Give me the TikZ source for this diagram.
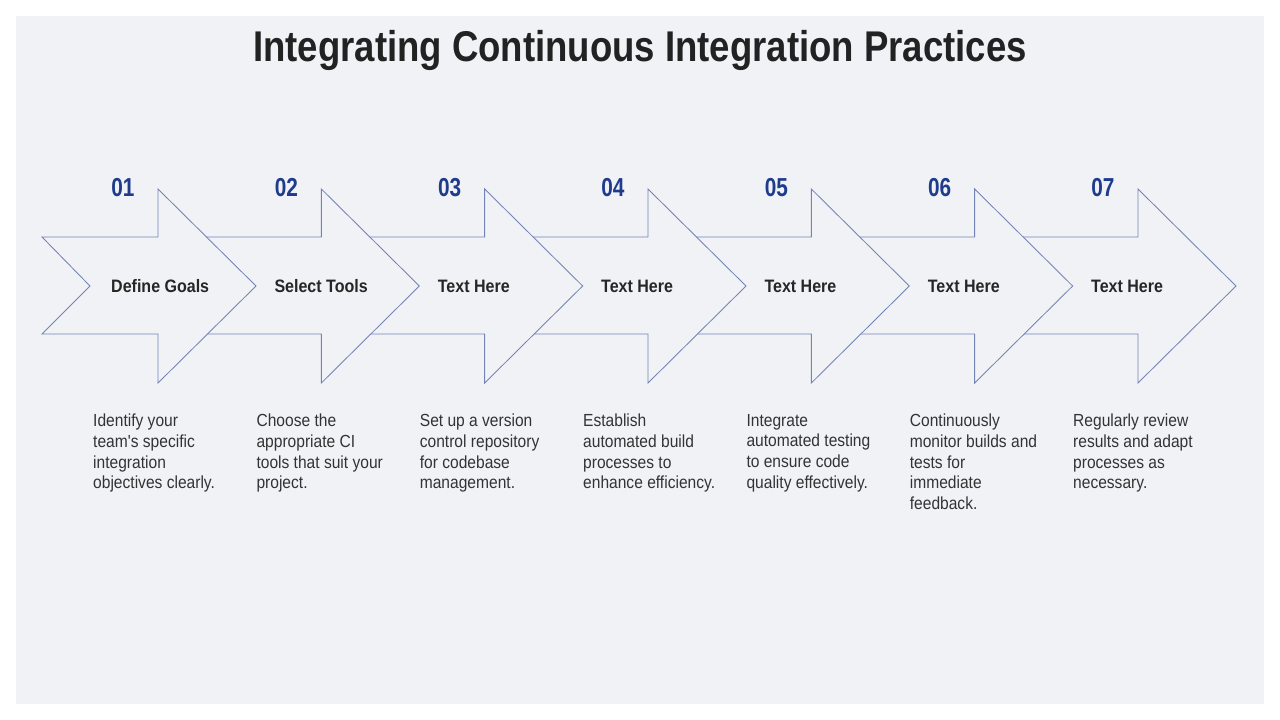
\documentclass[tikz,border=0pt]{standalone}
\usepackage{fontspec}
\setmainfont{Liberation Sans}
\newfontfamily\titlefont[FakeStretch=0.85]{Liberation Sans}
\newfontfamily\labelfont[FakeStretch=0.89]{Liberation Sans}
\newfontfamily\numfont[FakeStretch=0.8]{Liberation Sans}
\newfontfamily\descfont[FakeStretch=0.89]{Liberation Sans}
\definecolor{bgpanel}{HTML}{F0F2F6}
\definecolor{arrowline}{HTML}{7483B5}
\definecolor{numblue}{HTML}{1F3B8C}
\definecolor{titlecol}{HTML}{222222}
\definecolor{labelcol}{HTML}{262626}
\definecolor{desccol}{HTML}{333333}
\tikzset{
  chevron/.style={draw=arrowline, fill=bgpanel, line width=0.85pt, line join=miter},
  titletext/.style={inner sep=0pt, anchor=base, text=titlecol, font=\titlefont\bfseries\fontsize{43}{50}\selectfont},
  numtext/.style={inner sep=0pt, anchor=center, text=numblue, font=\numfont\bfseries\fontsize{26}{30}\selectfont},
  labeltext/.style={inner sep=0pt, anchor=base west, text=labelcol, font=\labelfont\bfseries\fontsize{18}{21}\selectfont},
  desctext/.style={inner sep=0pt, anchor=north west, align=left, text=desccol, font=\descfont\fontsize{17.5}{20.7}\selectfont}
}
\begin{document}
\begin{tikzpicture}[x=1pt,y=-1pt]
\useasboundingbox (0,0) rectangle (1280,720);
\fill[white] (0,0) rectangle (1280,720);
\fill[bgpanel] (16,16) rectangle (1264,704);
\node[titletext] (title) at (640,61) {Integrating Continuous Integration Practices};
\foreach \i/\num/\lab/\desc in {
  6/07/Text Here/{Regularly review\\results and adapt\\processes as\\necessary.},
  5/06/Text Here/{Continuously\\monitor builds and\\tests for\\immediate\\feedback.},
  4/05/Text Here/{Integrate\\automated testing\\to ensure code\\quality effectively.},
  3/04/Text Here/{Establish\\automated build\\processes to\\enhance efficiency.},
  2/03/Text Here/{Set up a version\\control repository\\for codebase\\management.},
  1/02/Select Tools/{Choose the\\appropriate CI\\tools that suit your\\project.},
  0/01/Define Goals/{Identify your\\team's specific\\integration\\objectives clearly.}}{
  \pgfmathsetmacro{\dx}{163.33*\i}
  \draw[chevron] (42+\dx,237) -- (158+\dx,237) -- (158+\dx,189) -- (256+\dx,286)
     -- (158+\dx,383) -- (158+\dx,334) -- (42+\dx,334) -- (90+\dx,286) -- cycle;
  \node[numtext] (num\i) at (123+\dx,187.5) {\num};
  \node[labeltext] (lab\i) at (111+\dx,292.7) {\lab};
  \node[desctext] (desc\i) at (93+\dx,414) {\desc};
}
\end{tikzpicture}
\end{document}
